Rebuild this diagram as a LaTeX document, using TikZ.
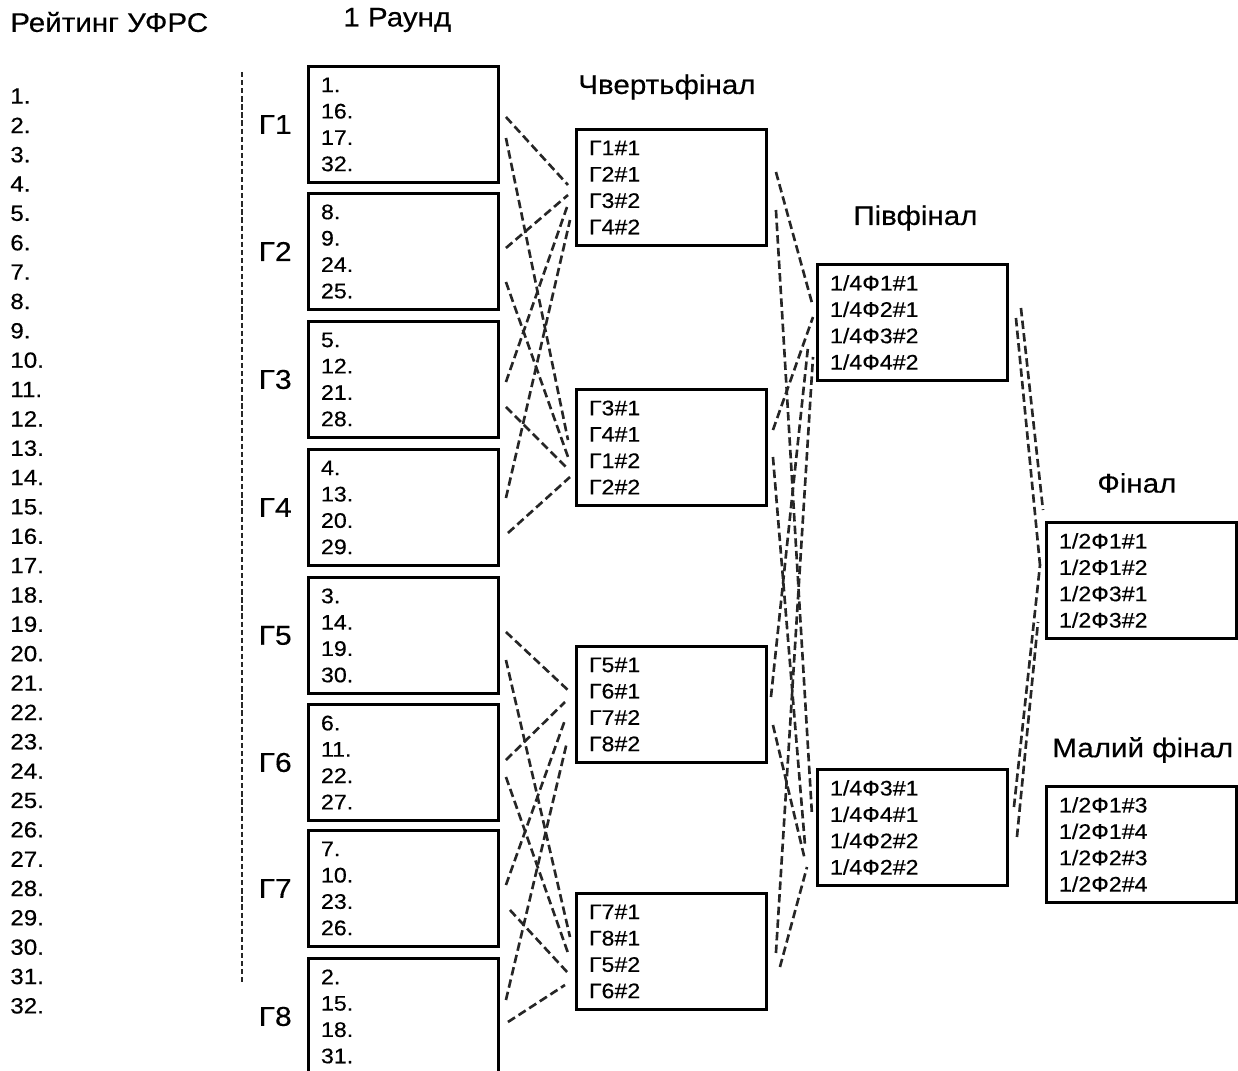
\documentclass[tikz,border=0pt]{standalone}
\usepackage{fontspec}
\setmainfont[FakeStretch=1.1,FakeBold=0.4]{Liberation Sans}
\usetikzlibrary{calc,positioning}

\tikzset{
  box/.style={draw, line width=1.7pt, anchor=north west, minimum width=3.8cm,
    minimum height=2.32cm, text width=3.3cm, inner xsep=0.25cm, align=left,
    font=\fontsize{12}{15}\selectfont},
  head/.style={anchor=west, inner sep=0pt, font=\fontsize{15.3}{18}\selectfont},
  rank/.style={anchor=west, inner sep=0pt, font=\fontsize{12.5}{15}\selectfont},
  glabel/.style={inner sep=0pt, font=\fontsize{15.5}{18}\selectfont},
  link/.style={draw=black!85, line width=1.5pt, dash pattern=on 4.8pt off 2.4pt},
}

\begin{document}
\begin{tikzpicture}[x=0.02cm, y=-0.02cm]
\useasboundingbox (0,0) rectangle (1238,1071);
% headings
\node[head] (hrank) at (10,22) {Рейтинг УФРС};
\node[head] (hr1) at (343,20) {1 Раунд};
\node[head] (hqf) at (578,87) {Чвертьфінал};
\node[head] (hsf) at (853,218) {Півфінал};
\node[head] (hfin) at (1097,483) {Фінал};
\node[head] (hsmall) at (1052,750) {Малий фінал};
% rating list
\foreach \i in {1,...,32}
  \node[rank] (r\i) at (10,{96+29.35*(\i-1)}) {\i.};
\draw[black!85, line width=1.3pt, dash pattern=on 3pt off 1.6pt] (242,72) -- (242,982);
% round 1 groups
\node[box] (g1) at (307,65) {1.\\16.\\17.\\32.};
\node[box] (g2) at (307,192) {8.\\9.\\24.\\25.};
\node[box] (g3) at (307,320) {5.\\12.\\21.\\28.};
\node[box] (g4) at (307,448) {4.\\13.\\20.\\29.};
\node[box] (g5) at (307,576) {3.\\14.\\19.\\30.};
\node[box] (g6) at (307,703) {6.\\11.\\22.\\27.};
\node[box] (g7) at (307,829) {7.\\10.\\23.\\26.};
\node[box] (g8) at (307,957) {2.\\15.\\18.\\31.};
\foreach \g in {1,...,8}
  \node[glabel, left=0.3cm of g\g] (lg\g) {Г\g};
% quarterfinals
\node[box] (qf1) at (575,128) {Г1\#1\\Г2\#1\\Г3\#2\\Г4\#2};
\node[box] (qf2) at (575,388) {Г3\#1\\Г4\#1\\Г1\#2\\Г2\#2};
\node[box] (qf3) at (575,645) {Г5\#1\\Г6\#1\\Г7\#2\\Г8\#2};
\node[box] (qf4) at (575,892) {Г7\#1\\Г8\#1\\Г5\#2\\Г6\#2};
% semifinals
\node[box] (sf1) at (816,263) {1/4Ф1\#1\\1/4Ф2\#1\\1/4Ф3\#2\\1/4Ф4\#2};
\node[box] (sf2) at (816,768) {1/4Ф3\#1\\1/4Ф4\#1\\1/4Ф2\#2\\1/4Ф2\#2};
% finals
\node[box] (fin) at (1045,521) {1/2Ф1\#1\\1/2Ф1\#2\\1/2Ф3\#1\\1/2Ф3\#2};
\node[box] (small) at (1045,785) {1/2Ф1\#3\\1/2Ф1\#4\\1/2Ф2\#3\\1/2Ф2\#4};
% groups to quarterfinals (offsets: right, down)
\draw[link] ($(g1.north east)+(6,52)$) -- ($(qf1.north west)+(-7,57)$);
\draw[link] ($(g1.north east)+(6,73)$) -- ($(qf2.north west)+(-7,52)$);
\draw[link] ($(g2.north east)+(6,56)$) -- ($(qf1.north west)+(-7,67)$);
\draw[link] ($(g2.north east)+(6,90)$) -- ($(qf2.north west)+(-7,69)$);
\draw[link] ($(g3.north east)+(6,62)$) -- ($(qf1.north west)+(-8,79)$);
\draw[link] ($(g3.north east)+(6,87)$) -- ($(qf2.north west)+(-8,80)$);
\draw[link] ($(g4.north east)+(6,50)$) -- ($(qf1.north west)+(-5,92)$);
\draw[link] ($(g4.north east)+(8,85)$) -- ($(qf2.north west)+(-5,89)$);
\draw[link] ($(g5.north east)+(6,56)$) -- ($(qf3.north west)+(-5,47)$);
\draw[link] ($(g5.north east)+(6,84)$) -- ($(qf4.north west)+(-5,45)$);
\draw[link] ($(g6.north east)+(6,57)$) -- ($(qf3.north west)+(-10,57)$);
\draw[link] ($(g6.north east)+(6,74)$) -- ($(qf4.north west)+(-7,61)$);
\draw[link] ($(g7.north east)+(6,56)$) -- ($(qf3.north west)+(-10,75)$);
\draw[link] ($(g7.north east)+(10,81)$) -- ($(qf4.north west)+(-7,81)$);
\draw[link] ($(g8.north east)+(6,43)$) -- ($(qf3.north west)+(-8,97)$);
\draw[link] ($(g8.north east)+(8,65)$) -- ($(qf4.north west)+(-10,93)$);
% quarterfinals to semifinals
\draw[link] ($(qf1.north east)+(8,44)$) -- ($(sf1.north west)+(-4,40)$);
\draw[link] ($(qf1.north east)+(8,82)$) -- ($(sf2.north west)+(-4,47)$);
\draw[link] ($(qf2.north east)+(5,42)$) -- ($(sf1.north west)+(-3,54)$);
\draw[link] ($(qf2.north east)+(5,69)$) -- ($(sf2.north west)+(-11,77)$);
\draw[link] ($(qf3.north east)+(3,52)$) -- ($(sf1.north west)+(-8,84)$);
\draw[link] ($(qf3.north east)+(5,80)$) -- ($(sf2.north west)+(-11,92)$);
\draw[link] ($(qf4.north east)+(8,61)$) -- ($(sf1.north west)+(-3,94)$);
\draw[link] ($(qf4.north east)+(12,75)$) -- ($(sf2.north west)+(-9,99)$);
% semifinals to final
\draw[link] ($(sf1.north east)+(12,45)$) -- ($(fin.north west)+(-2,-11)$);
\draw[link] ($(sf1.north east)+(7,55)$) -- ($(fin.north west)+(-5,44)$);
\draw[link] ($(sf2.north east)+(5,39)$) -- ($(fin.north west)+(-5,44)$);
\draw[link] ($(sf2.north east)+(8,69)$) -- ($(fin.north west)+(-7,101)$);
\end{tikzpicture}
\end{document}
